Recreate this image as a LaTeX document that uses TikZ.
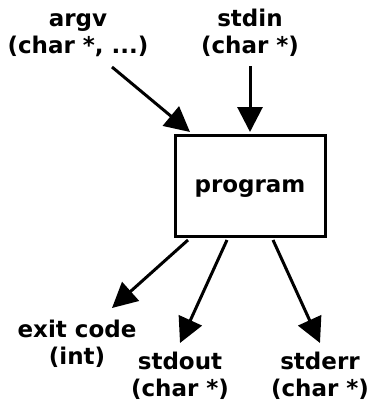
\documentclass[tikz,border=0pt]{standalone}
\usepackage{fontspec}
\setmainfont{DejaVu Sans}
\usetikzlibrary{arrows.meta}
\begin{document}
\begin{tikzpicture}[x=1pt,y=-1pt,
  lbl/.style={font=\fontsize{23}{27}\selectfont\bfseries,align=center,inner sep=0pt},
  arr/.style={line width=3pt,-{Triangle[length=25pt,width=25pt]}},
  box/.style={draw,line width=3pt,minimum width=150pt,minimum height=101pt,inner sep=0pt}]
\useasboundingbox (0,0) rectangle (369,402);
\node[box] (prog) at (250.5,186) {};
\node[lbl] (progtxt) at (250,188.5) {program};
\node[lbl] (argv) at (78,35.3) {argv\\(char *, ...)};
\node[lbl] (stdin) at (250,33) {stdin\\(char *)};
\node[lbl] (exit) at (77,343.3) {exit code\\(int)};
\node[lbl] (stdout) at (180,375.3) {stdout\\(char *)};
\node[lbl] (stderr) at (320,375.3) {stderr\\(char *)};
\coordinate (a1) at (112,67);
\coordinate (a2) at (190,132);
\coordinate (b1) at (250,66);
\coordinate (b2) at (250,132);
\coordinate (c1) at (188,240);
\coordinate (c2) at (112,308);
\coordinate (d1) at (227,240);
\coordinate (d2) at (180,343);
\coordinate (e1) at (273,240);
\coordinate (e2) at (320,343);
\draw[arr] (a1) -- (a2);
\draw[arr] (b1) -- (b2);
\draw[arr] (c1) -- (c2);
\draw[arr] (d1) -- (d2);
\draw[arr] (e1) -- (e2);
\end{tikzpicture}
\end{document}
